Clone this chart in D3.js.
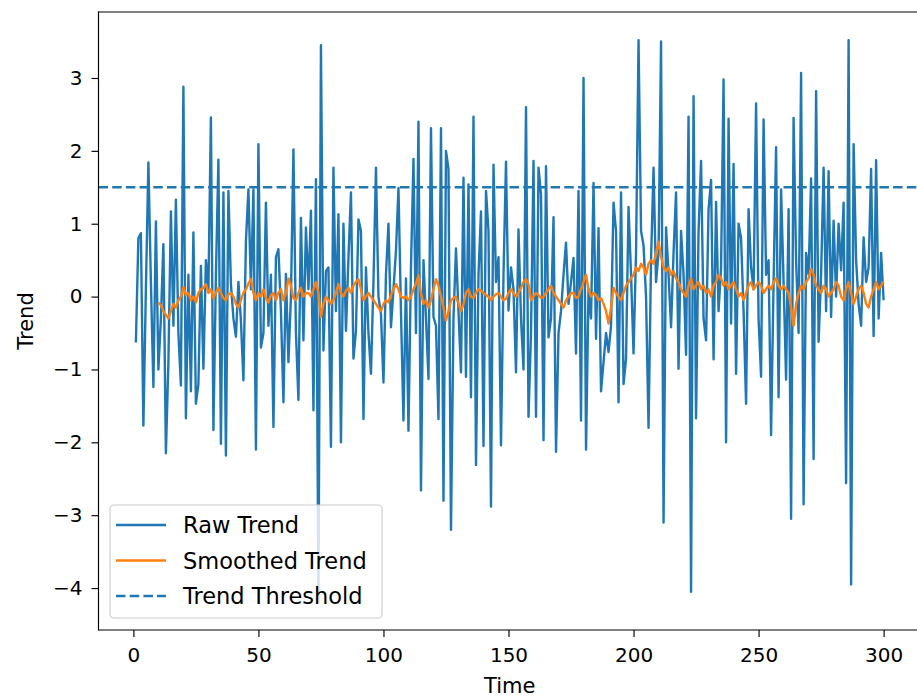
<!DOCTYPE html>
<html lang="en">
<head>
<meta charset="utf-8">
<title>Raw and Smoothed Trend</title>
<script src="https://cdn.jsdelivr.net/npm/d3@7"></script>
<style>
  body { margin: 0; background: #ffffff; overflow: hidden; }
  svg { font-family: "DejaVu Sans", sans-serif; }
</style>
</head>
<body>
<script>
// raw trend values, time steps 1..300
const rawTrend = [
  -0.63, 0.80, 0.87, -1.77, 0.10, 1.84, 0.20, -1.24, 1.03, -1.00,
  -0.30, 0.72, -2.15, -0.90, 1.17, -0.40, 1.33, -0.50, -1.22, 2.88,
  -1.67, 0.30, -1.30, 0.88, -1.47, -1.20, 0.42, -0.99, 0.50, 0.10,
  2.46, -1.83, 0.30, 1.88, -2.02, 1.43, -2.18, 1.45, 0.17, -0.30,
  -0.55, 0.20, -0.33, -1.15, 0.76, 1.47, 0.10, 1.47, -2.10, 2.09,
  -0.70, -0.50, 1.29, -0.40, 0.30, -1.79, 0.54, 0.65, -0.20, -1.45,
  0.31, -0.90, 0.00, 2.02, -0.50, -1.42, 1.08, -0.60, 0.95, 0.10,
  1.18, -1.56, 1.61, -4.19, 3.45, -0.74, 0.35, 0.40, -2.06, 1.77,
  -0.20, 1.13, -2.00, 1.00, -0.47, 0.54, 1.43, -0.85, -0.47, 1.06,
  0.90, -1.68, 0.40, -0.50, -1.06, 0.20, 1.77, 0.00, -0.24, -1.18,
  0.30, 1.00, -0.42, 0.10, 0.63, 1.49, -0.20, -1.70, 0.25, -1.84,
  0.40, 1.89, -0.50, 2.40, -2.66, 0.50, -0.30, -1.13, 2.31, -0.28,
  -0.40, -1.68, 2.31, -2.80, 2.00, 1.75, -3.20, -0.30, 0.66, -0.20,
  -1.04, 1.63, -1.10, 1.54, -1.38, 2.47, -2.31, 0.30, 1.17, -2.05,
  1.45, 0.90, -2.88, 1.81, 0.20, 0.54, -2.04, 0.30, 1.85, -0.19,
  0.40, 0.10, -1.04, 0.92, -0.30, -1.00, 2.60, -1.65, -0.50, 1.86,
  -1.65, 1.77, 1.40, -1.97, 1.79, -0.56, -0.30, 1.09, -2.13, -0.50,
  -0.20, 0.30, 0.74, -0.10, 0.20, 0.53, -0.78, 1.45, -1.70, 3.00,
  -2.10, 0.10, -0.30, 1.56, -0.58, 0.94, -1.30, -0.90, -0.50, -0.76,
  -0.40, 1.29, 0.90, -1.45, 1.43, -1.20, -0.85, 1.23, 0.30, -0.78,
  0.60, 3.52, 0.90, 0.70, 0.00, -1.80, 0.50, 1.77, 0.20, 0.60,
  3.50, -3.10, 0.95, 0.30, -0.42, 0.60, 1.43, -0.99, 0.90, 0.30,
  -0.80, 2.47, -4.05, 2.75, -1.67, 0.90, 1.86, -0.30, -0.60, 1.20,
  1.60, -0.86, 1.30, -0.20, 0.40, 2.98, -2.00, 2.44, -0.37, 1.82,
  -1.06, 1.00, 0.80, -0.20, -1.47, 1.20, 0.40, 0.10, 2.65, -0.30,
  -1.10, 2.43, 0.30, 0.50, -1.90, 0.20, 2.05, -1.38, 1.47, 0.20,
  -1.14, 1.20, -3.05, 2.45, 0.50, -0.50, 3.07, -2.85, 0.60, 0.30,
  1.62, -2.23, 2.82, -0.62, 0.30, 1.77, -0.20, 1.72, -0.28, 1.04,
  0.00, 1.00, 0.36, 1.29, -2.56, 3.52, -3.95, 2.09, 0.50, -0.10,
  -0.40, 0.81, 0.20, 0.40, 1.75, -0.54, 1.87, -0.30, 0.60, -0.05
];
const rawStart = 1;

// smoothed trend values, time steps 10..300
const smoothedTrend = [
  -0.08, -0.12, -0.20, -0.25, -0.30, -0.20, -0.10, -0.15, -0.05, 0.00,
  0.13, 0.02, 0.05, -0.05, 0.00, -0.08, 0.05, 0.10, 0.12, 0.17,
  0.05, 0.10, -0.02, 0.05, 0.12, 0.05, -0.02, -0.05, 0.03, 0.05,
  0.00, -0.10, -0.15, -0.05, 0.05, 0.10, 0.18, 0.24, 0.05, -0.05,
  0.05, 0.00, 0.10, -0.02, -0.08, 0.02, 0.05, -0.05, 0.05, 0.10,
  -0.05, 0.05, 0.25, 0.15, -0.02, -0.05, 0.05, 0.12, 0.00, 0.05,
  0.05, 0.00, 0.10, 0.20, 0.05, -0.28, -0.10, 0.00, -0.05, -0.10,
  -0.05, 0.05, 0.17, 0.05, 0.00, 0.08, 0.12, 0.05, 0.15, 0.20,
  0.24, 0.10, -0.05, 0.00, 0.05, 0.00, -0.05, -0.10, -0.15, -0.20,
  -0.10, -0.05, -0.08, 0.02, 0.10, 0.17, 0.10, 0.00, -0.02, 0.00,
  -0.05, 0.00, 0.10, 0.18, 0.29, 0.05, -0.10, -0.05, -0.15, -0.05,
  0.10, 0.24, 0.15, 0.00, -0.15, -0.33, -0.20, -0.05, -0.02, 0.00,
  -0.10, -0.20, -0.10, 0.05, 0.10, 0.00, -0.02, 0.05, 0.10, 0.08,
  0.05, 0.02, 0.00, -0.05, 0.00, 0.03, 0.05, 0.00, -0.05, -0.03,
  0.05, 0.10, 0.05, 0.00, 0.05, 0.12, 0.20, 0.24, 0.17, -0.05,
  0.00, 0.05, 0.02, -0.02, 0.00, 0.05, 0.10, 0.15, 0.05, 0.00,
  -0.05, -0.10, -0.15, -0.05, 0.00, 0.05, 0.05, -0.02, 0.00, 0.10,
  0.20, 0.30, 0.10, 0.00, 0.05, 0.02, -0.05, -0.02, -0.10, -0.20,
  -0.37, -0.15, 0.12, 0.05, 0.00, -0.05, 0.05, 0.15, 0.20, 0.25,
  0.30, 0.40, 0.35, 0.45, 0.40, 0.30, 0.45, 0.50, 0.45, 0.60,
  0.75, 0.55, 0.40, 0.35, 0.40, 0.30, 0.35, 0.25, 0.20, 0.10,
  0.05, 0.00, 0.15, 0.25, 0.10, 0.15, 0.20, 0.10, 0.15, 0.05,
  0.10, 0.00, 0.15, 0.20, 0.30, 0.25, 0.15, 0.20, 0.10, 0.15,
  0.20, 0.10, 0.00, 0.05, -0.05, 0.05, 0.15, 0.20, 0.10, 0.15,
  0.20, 0.15, 0.05, 0.10, 0.15, 0.10, 0.20, 0.25, 0.15, 0.10,
  0.15, 0.10, 0.05, -0.15, -0.40, -0.10, 0.05, 0.15, 0.10, 0.20,
  0.25, 0.38, 0.30, 0.15, 0.10, 0.05, 0.15, 0.10, 0.00, 0.05,
  0.10, 0.20, 0.15, 0.00, -0.05, 0.10, 0.20, 0.05, -0.10, 0.00,
  0.10, 0.15, 0.05, -0.10, -0.15, 0.00, 0.10, 0.20, 0.10, 0.15,
  0.20
];
const smoothedStart = 10;

const threshold = 1.5;
const xTicks = [0, 50, 100, 150, 200, 250, 300];
const yTicks = [-4, -3, -2, -1, 0, 1, 2, 3];
const legendLabels = ["Raw Trend", "Smoothed Trend", "Trend Threshold"];

const W = 917, H = 699;
const plot = {left: 98.5, top: 12, right: 921, bottom: 630};
const blue = "#1f77b4", orange = "#ff7f0e";
const lw = 2.4;
const tickFs = 20, labelFs = 21, legendFs = 22.5;

const raw = rawTrend.map((v, i) => ({t: i + rawStart, v: v}));
const smooth = smoothedTrend.map((v, i) => ({t: i + smoothedStart, v: v}));

// matplotlib style 5% margins
const tExt = d3.extent(raw, d => d.t);
const tPad = (tExt[1] - tExt[0]) * 0.05;
const vExt = d3.extent(raw, d => d.v);
const vPad = (vExt[1] - vExt[0]) * 0.05;

const x = d3.scaleLinear().domain([tExt[0] - tPad, tExt[1] + tPad]).range([plot.left, plot.right]);
const y = d3.scaleLinear().domain([vExt[0] - vPad, vExt[1] + vPad]).range([plot.bottom, plot.top]);

const svg = d3.select("body").append("svg")
    .attr("width", W)
    .attr("height", H);

svg.append("defs").append("clipPath").attr("id", "clip")
  .append("rect")
    .attr("x", plot.left).attr("y", plot.top)
    .attr("width", plot.right - plot.left)
    .attr("height", plot.bottom - plot.top);

const lines = svg.append("g").attr("clip-path", "url(#clip)");
const line = d3.line().x(d => x(d.t)).y(d => y(d.v));

lines.append("path")
    .datum(raw)
    .attr("d", line)
    .attr("fill", "none")
    .attr("stroke", blue)
    .attr("stroke-width", lw)
    .attr("stroke-linejoin", "round");

lines.append("path")
    .datum(smooth)
    .attr("d", line)
    .attr("fill", "none")
    .attr("stroke", orange)
    .attr("stroke-width", lw)
    .attr("stroke-linejoin", "round");

lines.append("line")
    .attr("x1", plot.left).attr("x2", plot.right)
    .attr("y1", y(threshold)).attr("y2", y(threshold))
    .attr("stroke", blue)
    .attr("stroke-width", lw)
    .attr("stroke-dasharray", "9.5,4.2");

// axes
const fmt = d => String(d).replace("-", "\u2212");

const xAxis = svg.append("g")
    .attr("transform", `translate(0,${plot.bottom})`)
    .call(d3.axisBottom(x).tickValues(xTicks).tickFormat(fmt).tickSize(7).tickPadding(11));

const yAxis = svg.append("g")
    .attr("transform", `translate(${plot.left},0)`)
    .call(d3.axisLeft(y).tickValues(yTicks).tickFormat(fmt).tickSize(7).tickPadding(9));

[xAxis, yAxis].forEach(a => {
  a.select(".domain").remove();
  a.selectAll(".tick line").attr("stroke", "#000").attr("stroke-width", 1.15);
  a.selectAll(".tick text")
    .attr("fill", "#000")
    .style("font-family", "'DejaVu Sans', sans-serif")
    .style("font-size", tickFs + "px");
});

// spines
const spine = (x1, y1, x2, y2) => svg.append("line")
    .attr("x1", x1).attr("y1", y1).attr("x2", x2).attr("y2", y2)
    .attr("stroke", "#000").attr("stroke-width", 1.15)
    .attr("stroke-linecap", "square");
spine(plot.left, plot.top, plot.left, plot.bottom);
spine(plot.left, plot.bottom, plot.right, plot.bottom);
spine(plot.left, plot.top, plot.right, plot.top);
spine(plot.right, plot.top, plot.right, plot.bottom);

// axis labels
svg.append("text")
    .attr("x", (plot.left + plot.right) / 2)
    .attr("y", 693)
    .attr("text-anchor", "middle")
    .style("font-size", labelFs + "px")
    .text("Time");

svg.append("text")
    .attr("transform", `translate(33,${(plot.top + plot.bottom) / 2}) rotate(-90)`)
    .attr("text-anchor", "middle")
    .style("font-size", labelFs + "px")
    .text("Trend");

// legend
const legend = svg.append("g");
legend.append("rect")
    .attr("x", 110).attr("y", 505)
    .attr("width", 272).attr("height", 113)
    .attr("rx", 4)
    .attr("fill", "#fff").attr("fill-opacity", 0.8)
    .attr("stroke", "#cccccc").attr("stroke-width", 1.15);

const legendStyles = [
  {color: blue, dash: null},
  {color: orange, dash: null},
  {color: blue, dash: "9.5,4.2"}
];
legendLabels.forEach((lab, i) => {
  const ry = 525 + i * 35.5;
  legend.append("line")
      .attr("x1", 116).attr("x2", 166)
      .attr("y1", ry).attr("y2", ry)
      .attr("stroke", legendStyles[i].color)
      .attr("stroke-width", lw)
      .attr("stroke-dasharray", legendStyles[i].dash);
  legend.append("text")
      .attr("x", 183).attr("y", ry + 8)
      .style("font-size", legendFs + "px")
      .attr("fill", "#000")
      .text(lab);
});
</script>
</body>
</html>
